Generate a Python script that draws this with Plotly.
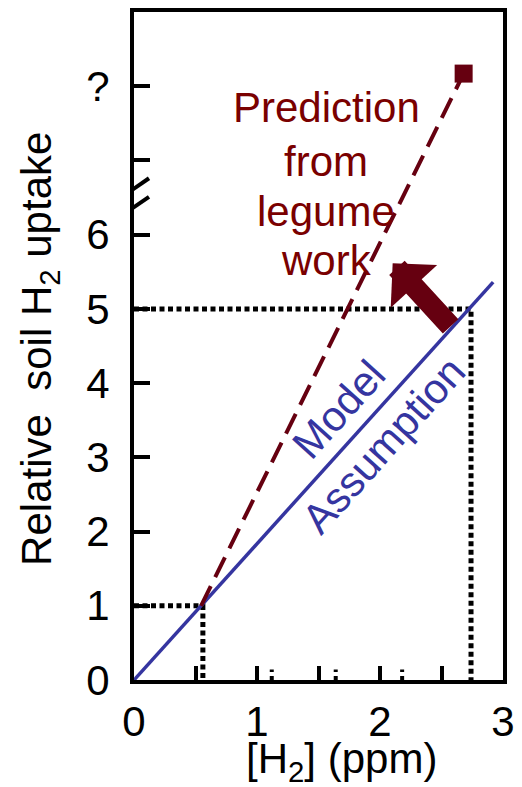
import plotly.graph_objects as go

# ---- data ----
model_x = [0.0, 2.92]
model_y = [0.0, 5.36]
pred_x = [0.545, 2.68]
pred_y = [1.0, 8.17]
pred_point_x = [2.68]
pred_point_y = [8.17]
guide1_x = [0.0, 0.56, 0.56]
guide1_y = [1.0, 1.0, 0.0]
guide5_x = [0.0, 2.74, 2.74]
guide5_y = [5.0, 5.0, 0.0]
stub_x = [1.12, 1.64, 2.18]
stub_top = 0.14
arrow_tip = (2.103, 5.616)
arrow_tail = (2.585, 4.744)

pred_lines = ["Prediction", "from", "legume", "work"]
pred_line_y = [7.71, 6.99, 6.31, 5.65]
pred_label_x = 1.561

x_tickvals = [0, 0.5, 1, 1.5, 2, 2.5, 3]
x_ticktext = ["0", "", "1", "", "2", "", "3"]
y_tickvals = [0, 1, 2, 3, 4, 5, 6, 7, 8]
y_ticktext = ["0", "1", "2", "3", "4", "5", "6", "", "?"]
break_y = 6.51

RED = "#660010"
RED_TXT = "#7a0000"
BLUE = "#3535a0"
FONT = "Liberation Sans, Arial, sans-serif"
FS = 42

fig = go.Figure()

# dotted guide lines
for gx, gy in [(guide1_x, guide1_y), (guide5_x, guide5_y)]:
    fig.add_trace(go.Scatter(x=gx, y=gy, mode="lines",
                             line=dict(color="black", width=5, dash="5px,3.5px"),
                             hoverinfo="skip", showlegend=False))
for sx in stub_x:
    fig.add_trace(go.Scatter(x=[sx, sx], y=[0, stub_top], mode="lines",
                             line=dict(color="black", width=4, dash="4px,4px"),
                             hoverinfo="skip", showlegend=False))

# model assumption line
fig.add_trace(go.Scatter(x=model_x, y=model_y, mode="lines",
                         line=dict(color=BLUE, width=3.5),
                         hoverinfo="skip", showlegend=False))
# prediction dashed line
fig.add_trace(go.Scatter(x=pred_x, y=pred_y, mode="lines",
                         line=dict(color=RED, width=4, dash="22px,10px"),
                         hoverinfo="skip", showlegend=False))
fig.add_trace(go.Scatter(x=pred_point_x, y=pred_point_y, mode="markers",
                         marker=dict(symbol="square", size=18, color=RED),
                         hoverinfo="skip", showlegend=False))

annotations = [
    dict(x=arrow_tip[0], y=arrow_tip[1], ax=arrow_tail[0], ay=arrow_tail[1],
         xref="x", yref="y", axref="x", ayref="y", text="", showarrow=True,
         arrowhead=1, arrowwidth=21, arrowsize=0.5, arrowcolor=RED),
    dict(x=1.665, y=3.64, xref="x", yref="y", showarrow=False, text="Model",
         xanchor="center", yanchor="middle",
         textangle=-48, font=dict(family=FONT, size=FS, color=BLUE)),
    dict(x=2.025, y=3.16, xref="x", yref="y", showarrow=False, text="Assumption",
         xanchor="center", yanchor="middle",
         textangle=-48, font=dict(family=FONT, size=FS, color=BLUE)),
    dict(x=-0.255, y=4.46, xref="paper", yref="y", showarrow=False,
         xanchor="center", yanchor="middle",
         text="Relative  soil H<sub>2</sub> uptake", textangle=-90,
         font=dict(family=FONT, size=FS, color="black")),
    dict(x=1.69, y=-0.1215, xref="x", yref="paper", showarrow=False,
         xanchor="center", yanchor="middle",
         text="[H<sub>2</sub>] (ppm)",
         font=dict(family=FONT, size=FS, color="black")),
]
for txt, ly in zip(pred_lines, pred_line_y):
    annotations.append(dict(x=pred_label_x, y=ly, xref="x", yref="y", showarrow=False,
                            xanchor="center", yanchor="middle", text=txt,
                            font=dict(family=FONT, size=FS, color=RED_TXT)))

shapes = [
    # gap in the axis for the break
    dict(type="line", xref="x", yref="y", xsizemode="pixel", xanchor=0,
         x0=0, x1=0, y0=6.42, y1=6.60, line=dict(color="white", width=7), layer="above"),
    dict(type="line", xref="x", yref="y", xsizemode="pixel", xanchor=0,
         x0=-12, x1=15, y0=break_y, y1=break_y + 0.25, line=dict(color="black", width=4), layer="above"),
    dict(type="line", xref="x", yref="y", xsizemode="pixel", xanchor=0,
         x0=-12, x1=15, y0=break_y - 0.25, y1=break_y, line=dict(color="black", width=4), layer="above"),
]

fig.update_layout(
    width=522, height=787,
    margin=dict(l=134, r=19, t=12, b=107),
    paper_bgcolor="white", plot_bgcolor="white",
    font=dict(family=FONT, size=FS, color="black"),
    annotations=annotations, shapes=shapes,
    xaxis=dict(range=[0, 3], tickvals=x_tickvals, ticktext=x_ticktext,
               ticks="inside", ticklen=14, tickwidth=4, tickcolor="black",
               showline=True, linewidth=4, linecolor="black", mirror=True,
               showgrid=False, zeroline=False, tickfont=dict(size=FS),
               ticklabelstandoff=2, automargin=False),
    yaxis=dict(range=[0, 9.0], tickvals=y_tickvals, ticktext=y_ticktext,
               ticks="inside", ticklen=16, tickwidth=4, tickcolor="black",
               showline=True, linewidth=4, linecolor="black", mirror=True,
               showgrid=False, zeroline=False, tickfont=dict(size=FS),
               ticklabelstandoff=12, automargin=False),
)

fig.write_html("out.html")
